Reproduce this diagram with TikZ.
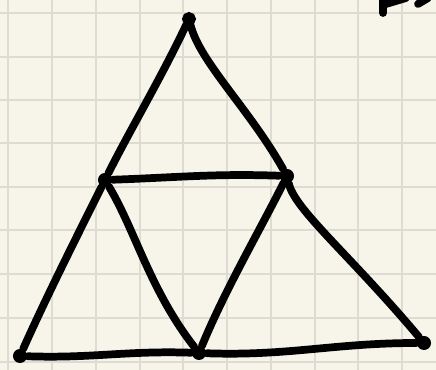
\documentclass[tikz,border=0pt]{standalone}
\usetikzlibrary{calc}
\definecolor{paper}{RGB}{247,245,233}
\definecolor{gridcol}{RGB}{222,220,210}

\tikzset{
  vdot/.style={circle, fill=black, inner sep=0pt, minimum size=0.14cm},
  odot/.style={circle, draw=black, fill=white, line width=2.4pt, inner sep=0pt, minimum size=0.05cm},
  edge/.style={line width=2.2pt, line cap=round, line join=round},
}

\begin{document}
\begin{tikzpicture}[x=0.01cm, y=-0.01cm]

% ---- Paper and grid ----
\fill[paper] (0,0) rectangle (436,370);
\useasboundingbox (0,0) rectangle (436,370);
\foreach \x in {8,52,96,140,183,227,271,315,358,402} {
  \draw[gridcol, line width=0.5pt] (\x,0) -- (\x,370);
}
\foreach \y in {13,57,100,143,187,230,274,318,362} {
  \draw[gridcol, line width=0.5pt] (0,\y) -- (436,\y);
}

% ---- Vertices ----
\node[odot] (apex) at (189,19) {};
\node[vdot] (midl) at (105,180) {};
\node[vdot] (midr) at (287,176) {};
\node[vdot] (botl) at (20,356) {};
\node[vdot] (botm) at (199,353) {};
\node[vdot] (botr) at (424,343) {};

% ---- Outer sides ----
\draw[edge] (apex) .. controls (160,80) and (130,130) .. (midl);
\draw[edge] (apex) .. controls (200,62) and (250,110) .. (midr);
\draw[edge] (midl) .. controls (75,240) and (45,300) .. (botl);
\draw[edge] (midr) .. controls (295,210) and (350,255) .. (botr);

% ---- Inner triangle ----
\draw[edge] (midl) to[out=2,in=178] (midr);
\draw[edge] (midl) .. controls (135,230) and (150,290) .. (botm);
\draw[edge] (midr) .. controls (260,230) and (225,290) .. (botm);

% ---- Base ----
\draw[edge] (botl) to[out=-2,in=178] (botm);
\draw[edge] (botm) to[out=-2,in=180] (botr);

% ---- Cut-off scribble, top right ----
\draw[edge] (383,-5) -- (383,13);
\draw[edge] (386,4) -- (406,-2);
\draw[edge] (418,4) -- (428,-2);

\end{tikzpicture}
\end{document}
